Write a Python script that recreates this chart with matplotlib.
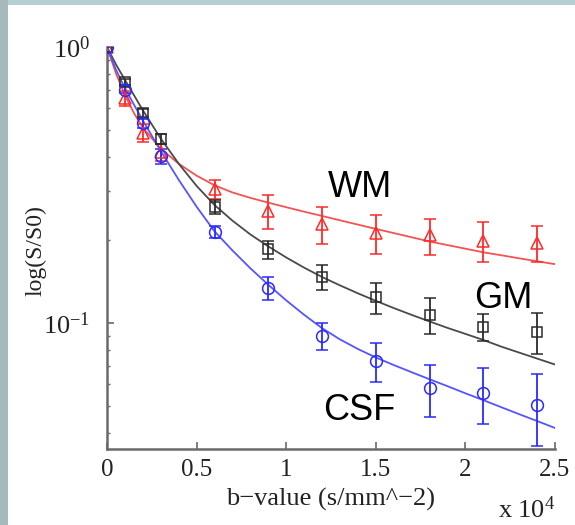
import matplotlib
matplotlib.use("Agg")
import matplotlib.pyplot as plt
from matplotlib import rcParams
from matplotlib.patches import Rectangle
from matplotlib.ticker import LogLocator, NullFormatter, FixedLocator

# Palette
RED = "#ff2a2a"
RED_FIT = "#f25454"
GRAY = "#2b2b2b"
GRAY_FIT = "#4a4a4a"
BLUE = "#2a2aff"
BLUE_FIT = "#5555ff"
SLIDE_BG = "#b6cfd2"
SLIDE_EDGE = "#a6babc"
TEXT = "#222222"

rcParams["font.family"] = "Liberation Serif"
rcParams["mathtext.fontset"] = "stix"

# b-values (x 10^4 s/mm^2)
b_values = [0.0, 0.1, 0.2, 0.3, 0.6, 0.9, 1.2, 1.5, 1.8, 2.1, 2.4]

# Mean normalised signal and error per tissue
wm_signal = [1.0, 0.653, 0.49, 0.417, 0.305, 0.255, 0.228, 0.212, 0.208, 0.199, 0.195]
wm_err = [0.0, 0.04, 0.037, 0.03, 0.024, 0.036, 0.035, 0.034, 0.031, 0.033, 0.029]

gm_signal = [1.0, 0.746, 0.577, 0.464, 0.264, 0.185, 0.147, 0.124, 0.107, 0.097, 0.093]
gm_err = [0.0, 0.02, 0.02, 0.02, 0.015, 0.014, 0.015, 0.016, 0.016, 0.011, 0.016]

csf_signal = [1.0, 0.70, 0.53, 0.403, 0.214, 0.134, 0.090, 0.073, 0.058, 0.056, 0.0507]
csf_err = [0.0, 0.02, 0.02, 0.025, 0.01, 0.0125, 0.0104, 0.012, 0.0124, 0.013, 0.0148]

# Model fits sampled along b
fit_b = [0.0, 0.05, 0.1, 0.15, 0.2, 0.3, 0.4, 0.5, 0.6, 0.7, 0.8, 0.9, 1.0,
         1.1, 1.2, 1.3, 1.4, 1.5, 1.6, 1.7, 1.8, 1.9, 2.0, 2.1, 2.2, 2.3,
         2.4, 2.5]
wm_fit = [1.0, 0.8025, 0.670, 0.577, 0.510, 0.428, 0.378, 0.342, 0.3157,
          0.2973, 0.2842, 0.2731, 0.2629, 0.2533, 0.2444, 0.2357, 0.2274,
          0.2194, 0.2119, 0.2046, 0.1975, 0.1917, 0.1860, 0.1805, 0.1761,
          0.1717, 0.1675, 0.1635]
gm_fit = [1.0, 0.865, 0.760, 0.670, 0.590, 0.466, 0.378, 0.314, 0.2677,
          0.235, 0.2095, 0.1896, 0.1729, 0.1588, 0.1469, 0.1370, 0.1282,
          0.1204, 0.1134, 0.1071, 0.1014, 0.0961, 0.0914, 0.0869, 0.0822,
          0.0782, 0.0744, 0.0708]
csf_fit = [1.0, 0.827, 0.710, 0.619, 0.542, 0.420, 0.3305, 0.264, 0.215,
           0.1833, 0.158, 0.1377, 0.1209, 0.1072, 0.0959, 0.0873, 0.0806,
           0.0751, 0.0705, 0.0664, 0.0626, 0.0591, 0.0557, 0.0526, 0.0496,
           0.0468, 0.0442, 0.0417]

x_ticks = [0, 0.5, 1, 1.5, 2, 2.5]
x_ticklabels = ["0", "0.5", "1", "1.5", "2", "2.5"]

fig = plt.figure(figsize=(5.75, 5.25), dpi=100, facecolor=SLIDE_BG)
fig.patches.append(Rectangle((0, 0), 8 / 575, 1, transform=fig.transFigure,
                             facecolor=SLIDE_EDGE, edgecolor="none", zorder=-10))
fig.patches.append(Rectangle((8 / 575, 0), 1, 520 / 525, transform=fig.transFigure,
                             facecolor="white", edgecolor="none", zorder=-10))

ax = fig.add_axes([107 / 575, 76 / 525, 448 / 575, 402 / 525])
ax.set_facecolor("none")
ax.set_zorder(5)

# fitted curves
ax.plot(fit_b, wm_fit, color=RED_FIT, lw=1.3, zorder=2)
ax.plot(fit_b, gm_fit, color=GRAY_FIT, lw=1.3, zorder=2)
ax.plot(fit_b, csf_fit, color=BLUE_FIT, lw=1.3, zorder=2)

# measurements
common = dict(ls="none", mfc="none", mew=1.1, elinewidth=1.3, capsize=4, capthick=1.3,
              zorder=3)
ax.errorbar(b_values, wm_signal, yerr=wm_err, marker="^", ms=9, color=RED, **common)
ax.errorbar(b_values, gm_signal, yerr=gm_err, marker="s", ms=7.5, color=GRAY, **common)
ax.errorbar(b_values, csf_signal, yerr=csf_err, marker="o", ms=8.5, color=BLUE, **common)

ax.set_yscale("log")
ax.set_xlim(0, 2.5)
ax.set_ylim(0.035, 1.0)

ax.spines["top"].set_visible(False)
ax.spines["right"].set_visible(False)
for side in ("left", "bottom"):
    ax.spines[side].set_color("#6a6a6a")
    ax.spines[side].set_linewidth(1.8)

ax.xaxis.set_major_locator(FixedLocator(x_ticks))
ax.set_xticklabels(x_ticklabels)
ax.yaxis.set_major_locator(FixedLocator([0.1, 1.0]))
ax.set_yticklabels([r"$\mathregular{10^{-1}}$", r"$\mathregular{10^{0}}$"])
ax.yaxis.set_minor_locator(LogLocator(base=10, subs=range(2, 10)))
ax.yaxis.set_minor_formatter(NullFormatter())

ax.tick_params(axis="x", direction="in", length=5, width=1.2, color="#6a6a6a",
               labelsize=18, pad=7, labelcolor=TEXT)
ax.tick_params(axis="y", which="major", direction="in", length=5, width=1.2,
               color="#6a6a6a", labelsize=19, pad=12, labelcolor=TEXT)
ax.tick_params(axis="y", which="minor", direction="in", length=2.5, width=1.0,
               color="#6a6a6a")

ax.set_xlabel("b\u2212value (s/mm^\u22122)", fontsize=19, color=TEXT)
ax.xaxis.set_label_coords(0.5, -0.097)
ax.set_ylabel("log(S/S0)", fontsize=17, color=TEXT)
ax.yaxis.set_label_coords(-0.134, 0.4925)

fig.text(498 / 575, 7 / 525, r"x $\mathregular{10^{4}}$", fontsize=19,
         color=TEXT, ha="left", va="baseline")

# tissue labels
ax.text(1.411, 0.2865, "WM", family="Liberation Sans", fontsize=26,
        ha="center", va="baseline", color="black")
ax.text(2.211, 0.1134, "GM", family="Liberation Sans", fontsize=26,
        ha="center", va="baseline", color="black")
ax.text(1.405, 0.0445, "CSF", family="Liberation Sans", fontsize=26,
        ha="center", va="baseline", color="black")

fig.savefig("out.png", dpi=100, facecolor=fig.get_facecolor())
